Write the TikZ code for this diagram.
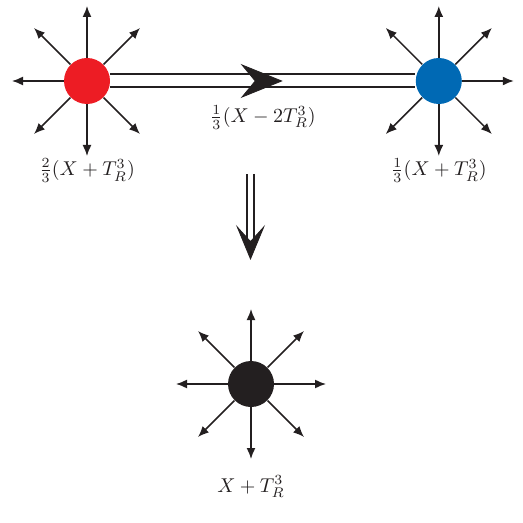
\documentclass[tikz,border=0pt]{standalone}
\usepackage{tikz}
\usetikzlibrary{positioning,arrows.meta,calc,decorations.markings}
\usepackage{amsmath}
\definecolor{ChargeRed}{HTML}{ED1C24}
\definecolor{ChargeBlue}{HTML}{0069B4}
\definecolor{ChargeBlack}{HTML}{231F20}

\begin{document}
\begin{tikzpicture}[x=0.5pt, y=-0.5pt,
      dot/.style={circle, minimum size=23pt, inner sep=0pt, draw=none},
      spoke/.style={-{Latex[length=5.5pt,width=4.5pt]}, line width=0.75pt, ChargeBlack},
      dbl/.style={double, double distance=5.5pt, line width=1pt, ChargeBlack},
      dbldown/.style={double, double distance=2.8pt, line width=0.9pt, ChargeBlack},
      headmark/.style={postaction={decorate}, decoration={markings,
                       mark=at position #1 with {\arrow[ChargeBlack]{Stealth[length=21pt,width=17pt,inset=7pt]}}}},
      tipmark/.style={postaction={decorate}, decoration={markings,
                      mark=at position 1 with {\arrow[ChargeBlack]{Stealth[length=17.5pt,width=14.5pt,inset=8pt]}}}},
      lbl/.style={inner sep=1pt, text=ChargeBlack},
      node distance=10pt,
    ]
      \useasboundingbox (0,0) rectangle (523,523);
      % two charges joined by the string
      \node[dot, fill=ChargeRed] (red) at (87,81) {};
      \node[dot, fill=ChargeBlue, right=152.5pt of red] (blue) {};
      \draw[dbl] (red) -- (blue);
      \path[headmark=0.565] (red) -- (blue);
      \coordinate (mid) at ($(red)!0.5!(blue)$);
      \foreach \a in {45,90,...,315} {
        \coordinate (r\a) at ($(red)+(\a:37.5pt)$);
        \draw[spoke] (red) -- (r\a);
      }
      \foreach \a in {0,45,90,135,225,270,315} {
        \coordinate (b\a) at ($(blue)+(\a:37.5pt)$);
        \draw[spoke] (blue) -- (b\a);
      }
      \node[lbl, below=26pt of red] (redlbl) {$\frac{2}{3}(X+T_R^3)$};
      \node[lbl, below=26pt of blue] (bluelbl) {$\frac{1}{3}(X+T_R^3)$};
      \node[lbl, below=11pt of mid] (strlbl) {$\frac{1}{3}(X-2T_R^3)$};
      % fusion
      \coordinate (dtop) at (250.5,174);
      \coordinate (dtip) at (250.5,260);
      \draw[dbldown, shorten >=7pt] (dtop) -- (dtip);
      \path[tipmark] (dtop) -- (dtip);
      % resulting charge
      \node[dot, fill=ChargeBlack] (mix) at (251,384) {};
      \foreach \a in {0,45,...,315} {
        \coordinate (m\a) at ($(mix)+(\a:37.5pt)$);
        \draw[spoke] (mix) -- (m\a);
      }
      \node[lbl, below=33pt of mix] (mixlbl) {$X+T_R^3$};
    \end{tikzpicture}
\end{document}
